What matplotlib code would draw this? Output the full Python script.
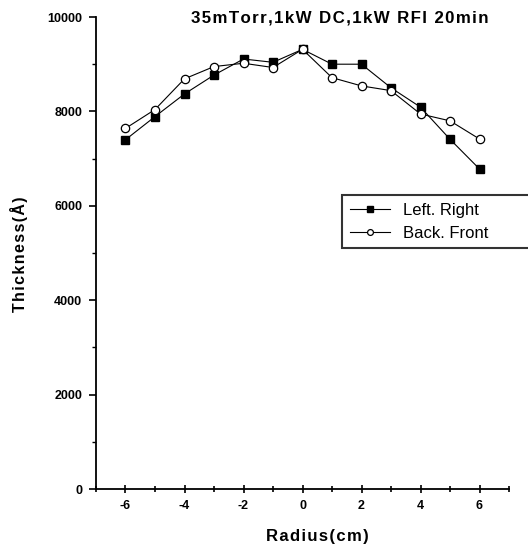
import matplotlib
matplotlib.use("Agg")
import matplotlib.pyplot as plt
from matplotlib.ticker import MultipleLocator

plt.rcParams['font.family'] = ['Liberation Sans', 'DejaVu Sans']
plt.rcParams['axes.unicode_minus'] = False

radius = [-6, -5, -4, -3, -2, -1, 0, 1, 2, 3, 4, 5, 6]
left_right = [7400, 7890, 8370, 8770, 9110, 9040, 9315, 9000, 9000, 8500, 8090, 7410, 6780]
back_front = [7640, 8040, 8690, 8950, 9020, 8930, 9315, 8715, 8540, 8440, 7945, 7800, 7415]
series_labels = ["Left. Right", "Back. Front"]
title = "35mTorr,1kW DC,1kW RFI 20min"
xlabel = "Radius(cm)"
ylabel = "Thickness(Å)"


def spaced(s, sep='\u200a'):
    return sep.join(s)


fig = plt.figure(figsize=(5.28, 5.45), dpi=100)
ax = fig.add_axes([96/528, 1-489/545, (509-96)/528, (489-17)/545])

ax.plot(radius, left_right, '-', color='black', lw=0.8, marker='s', ms=6,
        mfc='black', mec='black', label=series_labels[0])
ax.plot(radius, back_front, '-', color='black', lw=0.8, marker='o', ms=6,
        mfc='white', mec='black', mew=0.9, label=series_labels[1])

ax.set_xlim(-7, 7)
ax.set_ylim(0, 10000)
ax.xaxis.set_major_locator(MultipleLocator(2))
ax.xaxis.set_minor_locator(MultipleLocator(1))
ax.yaxis.set_major_locator(MultipleLocator(2000))
ax.yaxis.set_minor_locator(MultipleLocator(1000))
for s in ['top', 'right']:
    ax.spines[s].set_visible(False)
for s in ['left', 'bottom']:
    ax.spines[s].set_linewidth(1.3)
ax.tick_params(axis='x', which='both', direction='inout', length=6, width=1.2, labelsize=9, pad=5)
ax.tick_params(axis='x', which='minor', length=4)
ax.tick_params(axis='y', which='major', direction='out', length=5, width=1.2, labelsize=9, pad=5)
ax.tick_params(axis='y', which='minor', direction='out', length=3, width=1.0)
for lab in ax.get_xticklabels() + ax.get_yticklabels():
    lab.set_fontweight('bold')

fig.text(340/528, 1-18/545, spaced(title), ha='center', va='center', fontsize=12.2, fontweight='bold')
fig.text(317/528, 1-536/545, spaced(xlabel), ha='center', va='center', fontsize=12, fontweight='bold')
fig.text(19/528, 1-254/545, spaced(ylabel), ha='center', va='center', fontsize=11.5, fontweight='bold', rotation=90)

leg = fig.legend(loc='upper left', bbox_to_anchor=(342/528, 1-195/545 - 0.01, (545-342)/528, 0.01),
                 mode='expand', frameon=True, fancybox=False, edgecolor='black',
                 prop={'size': 12}, handlelength=2.4, markerscale=0.7,
                 borderpad=0.45, labelspacing=0.5, handletextpad=0.8, borderaxespad=0)
leg.get_frame().set_linewidth(1.5)

fig.savefig('out.png', dpi=100)
